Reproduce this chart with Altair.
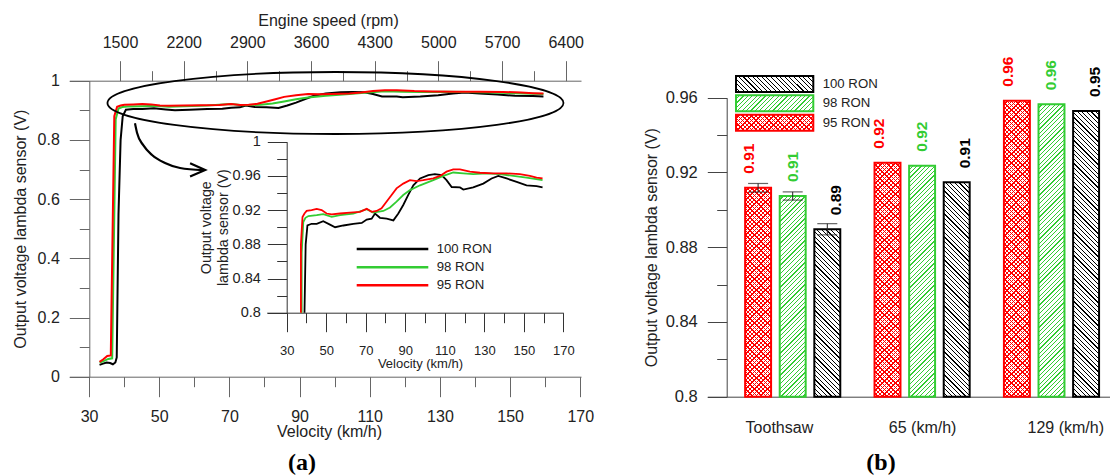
import altair as alt
import pandas as pd

FONT = "Liberation Sans"
W, H = 1110, 475

FUELS = ["100 RON", "98 RON", "95 RON"]
FUEL_COLORS = ["#000000", "#33cc33", "#ff0000"]

# ---------------- panel (a): output voltage vs velocity ----------------
v_100 = [33, 34, 35, 36, 36.8, 37.5, 37.9, 38.4, 39.0, 39.6, 40.5, 42.6, 45.2, 48.5, 51.9,
         54.5, 58.7, 63.7, 68, 70.5, 73, 74.7, 77.2, 80.6, 84, 86.5, 89, 91.6, 94.1, 97.5,
         101.7, 105, 108.4, 110.9, 113.5, 117.7, 119.4, 124.4, 129.5, 133.7, 137.1, 141.3,
         146.4, 151.4, 156.5, 159.5]
u_100 = [0.040, 0.044, 0.048, 0.046, 0.042, 0.048, 0.065, 0.55, 0.80, 0.88, 0.902, 0.904,
         0.904, 0.907, 0.903, 0.900, 0.902, 0.904, 0.905, 0.909, 0.910, 0.916, 0.911, 0.910,
         0.908, 0.916, 0.926, 0.938, 0.949, 0.957, 0.961, 0.962, 0.961, 0.955, 0.947, 0.9465,
         0.944, 0.9465, 0.951, 0.957, 0.960, 0.957, 0.953, 0.949, 0.948, 0.9465]
v_98 = [33, 34, 35.5, 36.6, 37.6, 38.4, 39.5, 41, 45.2, 48.5, 52.8, 57, 63.7, 70.5, 73.8,
        78.9, 82.3, 85.6, 89, 92.4, 97.5, 104.2, 109.3, 114.3, 119.4, 124.4, 131.2, 138,
        144.7, 151.4, 159.5]
u_98 = [0.048, 0.052, 0.060, 0.062, 0.87, 0.906, 0.911, 0.913, 0.914, 0.9153, 0.912, 0.914,
        0.916, 0.921, 0.917, 0.919, 0.923, 0.930, 0.9376, 0.9434, 0.949, 0.955, 0.960, 0.964,
        0.963, 0.962, 0.963, 0.962, 0.960, 0.958, 0.955]
v_95 = [33, 34, 35.2, 36.2, 37.2, 38.0, 39.0, 40.1, 42.6, 45.2, 47.7, 50.2, 52.8, 57, 62,
        67.1, 70.5, 73, 75.5, 78, 80.6, 83.1, 85.6, 89, 92.4, 95.8, 99.1, 104.2, 107.6, 110.9,
        114.3, 117.7, 122.7, 127.8, 134.6, 141.3, 148, 153.1, 156.5, 159.5]
u_95 = [0.050, 0.058, 0.070, 0.072, 0.88, 0.912, 0.916, 0.919, 0.920, 0.9215, 0.920, 0.916,
        0.915, 0.916, 0.917, 0.918, 0.9215, 0.918, 0.919, 0.922, 0.930, 0.9376, 0.9454, 0.951,
        0.955, 0.954, 0.955, 0.957, 0.960, 0.965, 0.9676, 0.9676, 0.965, 0.9637, 0.963, 0.963,
        0.962, 0.960, 0.958, 0.957]

vel_ticks = [30, 50, 70, 90, 110, 130, 150, 170]
vel_minor = [40, 60, 80, 100, 120, 140, 160]
volt_ticks = [0, 0.2, 0.4, 0.6, 0.8, 1.0]
volt_minor = [0.1, 0.3, 0.5, 0.7, 0.9]
rpm_ticks = [1500, 2200, 2900, 3600, 4300, 5000, 5700, 6400]
rpm_minor = [1850, 2550, 3250, 3950, 4650, 5350, 6050]
inset_ticks = [0.8, 0.84, 0.88, 0.92, 0.96, 1.0]
inset_minor = [0.82, 0.86, 0.9, 0.94, 0.98]

# annotation: ellipse and curved arrow (main-chart data coordinates)
ell_v, ell_u = [100.23], [0.9247]
arrow_v = [43.1, 43.7, 45.4, 47.96, 51.67, 55.95, 62.5]
arrow_u = [0.856, 0.823, 0.783, 0.749, 0.722, 0.705, 0.698]
head_v = [58.8, 63.1, 58.8]
head_u = [0.721, 0.698, 0.676]

# ---------------- panel (b): bars ----------------
conditions = ["Toothsaw", "65 (km/h)", "129 (km/h)"]
bar_order = ["95 RON", "98 RON", "100 RON"]
bar_95 = [0.9118, 0.9252, 0.9584]
bar_98 = [0.9074, 0.9236, 0.9565]
bar_100 = [0.8896, 0.9147, 0.9529]
err_95 = [0.0023, 0, 0]
err_98 = [0.0022, 0, 0]
err_100 = [0.0030, 0, 0]
lab_95 = ["0.91", "0.92", "0.96"]
lab_98 = ["0.91", "0.92", "0.96"]
lab_100 = ["0.89", "0.91", "0.95"]
bar_ticks = [0.8, 0.84, 0.88, 0.92, 0.96]
bar_minor = [0.82, 0.86, 0.9, 0.94]

# ---------------- layout (pixels) ----------------
MX0, MX1, MY0, MY1 = 69.3, 581.0, 376.7, 80.7
MAIN_YAXIS_X = 89.3
IX0, IX1, IY0, IY1 = 266.7, 563.3, 312.7, 141.7
INSET_YAXIS_X = 286.7
BY0, BY1 = 396.7, 97.7
B_YAXIS_X = 726.7
BX0, BX1 = 707.3, 1136.9

SX_MAIN = alt.Scale(domain=[24.38, 170.2], range=[MX0, MX1], nice=False, zero=False)
SY_MAIN = alt.Scale(domain=[0, 1], range=[MY0, MY1], nice=False, zero=False)
SX_RPM = alt.Scale(domain=[942.6, 6568.2], range=[MX0, MX1], nice=False, zero=False)
SX_IN = alt.Scale(domain=[19.88, 170], range=[IX0, IX1], nice=False, zero=False)
SY_IN = alt.Scale(domain=[0.8, 1.0], range=[IY0, IY1], nice=False, zero=False)
SX_B = alt.Scale(domain=conditions, range=[BX0, BX1], paddingInner=0, paddingOuter=0.16)
SXO_B = alt.Scale(domain=bar_order, paddingInner=0.25, paddingOuter=0.495)
SY_B = alt.Scale(domain=[0.8, 0.96], range=[BY0, BY1], nice=False, zero=False)
SCOLOR = alt.Scale(domain=FUELS, range=FUEL_COLORS)

INT_FMT = "d"
DEC_FMT = ".2~f"


def axis(orient, values, tick, offset, color, labels=True, lfs=16, lpad=10, title="",
         tx=None, ty=None, tfs=16, tangle=0, tlh=None, domain=True, fmt=INT_FMT):
    kw = dict(orient=orient, values=values, tickSize=tick, offset=offset, grid=False,
              domain=domain, domainColor=color, domainWidth=1, tickColor=color, tickWidth=1,
              ticks=True, labels=labels, labelFont=FONT, labelFontSize=lfs, labelColor="#222",
              labelPadding=lpad, labelFlush=False, labelOverlap=False, format=fmt,
              title=title, titleFont=FONT, titleFontSize=tfs, titleFontWeight="normal",
              titleColor="#222")
    if tx is not None:
        kw.update(titleX=tx, titleY=ty, titleAngle=tangle, titleAlign="center",
                  titleBaseline="middle")
    if tlh is not None:
        kw["titleLineHeight"] = tlh
    return alt.Axis(**kw)


def hatch(w, h, period, color, bg, direction, frac):
    n = (w + h) / period
    k = (w + h) / (w * w + h * h)
    if direction == "/":
        x1, y1, x2, y2 = 0, 0, k * w, k * h
    else:
        x1, y1, x2, y2 = 0, 1, k * w, 1 - k * h
    stops = []
    i = 0
    while i < n:
        a = i / n
        b = min((i + 1 - frac) / n, 1.0)
        c = min((i + 1) / n, 1.0)
        stops.append({"offset": round(a, 5), "color": bg})
        if b > a:
            stops.append({"offset": round(b, 5), "color": bg})
        if c > b:
            stops.append({"offset": round(b, 5), "color": color})
            stops.append({"offset": round(c, 5), "color": color})
        i += 1
    return {"gradient": "linear", "stops": stops, "x1": round(x1, 5), "y1": round(y1, 5),
            "x2": round(x2, 5), "y2": round(y2, 5)}


CLEAR = "rgba(255,255,255,0)"


def fuel_fills(fuel, w, h):
    """list of (fill, stroke) layers for one hatched box"""
    if fuel == "95 RON":
        return [(hatch(w, h, 4.4, "#ff0000", "#ffffff", "/", 0.3), None),
                (hatch(w, h, 4.4, "#ff0000", CLEAR, "\\", 0.3), "#ff0000")]
    if fuel == "98 RON":
        return [(hatch(w, h, 4.4, "#33cc33", "#ffffff", "/", 0.28), "#33cc33")]
    return [(hatch(w, h, 4.6, "#000000", "#ffffff", "\\", 0.25), "#000000")]


layers = []

# ---- main chart lines + major axes ----
rows = []
for fuel, vs, us in [("100 RON", v_100, u_100), ("98 RON", v_98, u_98), ("95 RON", v_95, u_95)]:
    assert len(vs) == len(us)
    for v, u in zip(vs, us):
        rows.append({"fuel": fuel, "v": v, "u": u})
df_main = pd.DataFrame(rows)

layers.append(
    alt.Chart(df_main).mark_line(strokeWidth=2).encode(
        x=alt.X("v:Q", scale=SX_MAIN,
                axis=axis("bottom", vel_ticks, 20, MY0 - H, "#666", lpad=12,
                          title="Velocity (km/h)", tx=329, ty=55)),
        y=alt.Y("u:Q", scale=SY_MAIN,
                axis=axis("left", volt_ticks, 20, -MAIN_YAXIS_X, "#666", lpad=10,
                          title="Output voltage lambda sensor (V)", tx=20.5 - MAIN_YAXIS_X,
                          ty=(MY0 + MY1) / 2, tangle=270, fmt=DEC_FMT)),
        color=alt.Color("fuel:N", scale=SCOLOR, legend=None),
    )
)
# minor ticks main
layers.append(
    alt.Chart(pd.DataFrame({"v": [30], "u": [0]})).mark_point(opacity=0).encode(
        x=alt.X("v:Q", scale=SX_MAIN,
                axis=axis("bottom", vel_minor, 10, MY0 - H, "#666", labels=False, domain=False)),
        y=alt.Y("u:Q", scale=SY_MAIN,
                axis=axis("left", volt_minor, 10, -MAIN_YAXIS_X, "#666", labels=False,
                          domain=False, fmt=DEC_FMT)),
    )
)
# top rpm axis
layers.append(
    alt.Chart(pd.DataFrame({"rpm": rpm_ticks})).mark_point(opacity=0).encode(
        x=alt.X("rpm:Q", scale=SX_RPM,
                axis=axis("top", rpm_ticks, 20, -MY1, "#666", lpad=10,
                          title="Engine speed (rpm)", tx=328, ty=21 - MY1)),
    )
)
layers.append(
    alt.Chart(pd.DataFrame({"rpm": rpm_minor})).mark_point(opacity=0).encode(
        x=alt.X("rpm:Q", scale=SX_RPM,
                axis=axis("top", rpm_minor, 10, -MY1, "#666", labels=False, domain=False)),
    )
)
# ellipse
RY = 0.136
KAP = 0.5523
ELLIPSE = (f"M -1 0 C -1 {-RY*KAP:.4f} {-KAP} {-RY} 0 {-RY} "
           f"C {KAP} {-RY} 1 {-RY*KAP:.4f} 1 0 "
           f"C 1 {RY*KAP:.4f} {KAP} {RY} 0 {RY} "
           f"C {-KAP} {RY} -1 {RY*KAP:.4f} -1 0 Z")
layers.append(
    alt.Chart(pd.DataFrame({"v": ell_v, "u": ell_u})).mark_point(
        shape=ELLIPSE, size=456 * 456, filled=False, color="#000000", strokeWidth=1.8,
        opacity=1).encode(
        x=alt.X("v:Q", scale=SX_MAIN, axis=None),
        y=alt.Y("u:Q", scale=SY_MAIN, axis=None),
    )
)
# arrow
layers.append(
    alt.Chart(pd.DataFrame({"v": arrow_v, "u": arrow_u})).mark_line(
        color="#000000", strokeWidth=2.2, interpolate="monotone").encode(
        x=alt.X("v:Q", scale=SX_MAIN, axis=None),
        y=alt.Y("u:Q", scale=SY_MAIN, axis=None),
    )
)
layers.append(
    alt.Chart(pd.DataFrame({"v": head_v, "u": head_u, "o": [0, 1, 2]})).mark_line(
        color="#000000", strokeWidth=2.2).encode(
        x=alt.X("v:Q", scale=SX_MAIN, axis=None),
        y=alt.Y("u:Q", scale=SY_MAIN, axis=None),
        order="o:Q",
    )
)

# ---- inset ----
irows = []
for fuel, vs, us in [("100 RON", v_100, u_100), ("98 RON", v_98, u_98), ("95 RON", v_95, u_95)]:
    vis = [(v, u) for v, u in zip(vs, us) if u >= 0.8]
    irows.append({"fuel": fuel, "v": vis[0][0], "u": 0.8})
    for v, u in vis:
        irows.append({"fuel": fuel, "v": v, "u": u})
df_in = pd.DataFrame(irows)

layers.append(
    alt.Chart(df_in).mark_line(strokeWidth=1.8).encode(
        x=alt.X("v:Q", scale=SX_IN,
                axis=axis("bottom", vel_ticks, 19, IY0 - H, "#333", lfs=13, lpad=12.5,
                          title="Velocity (km/h)", tx=420, ty=363.3 - IY0, tfs=13)),
        y=alt.Y("u:Q", scale=SY_IN,
                axis=axis("left", inset_ticks, 19.4, -INSET_YAXIS_X, "#333", lfs=14.5, lpad=7,
                          title=["Output voltage", "lambda sensor (V)"],
                          tx=206.7 - INSET_YAXIS_X, ty=(IY0 + IY1) / 2, tfs=14.3, tangle=270,
                          tlh=16.6, fmt=DEC_FMT)),
        color=alt.Color("fuel:N", scale=SCOLOR, legend=None),
    )
)
layers.append(
    alt.Chart(pd.DataFrame({"v": [30], "u": [0.8]})).mark_point(opacity=0).encode(
        x=alt.X("v:Q", scale=SX_IN,
                axis=axis("bottom", vel_minor, 10, IY0 - H, "#333", labels=False, domain=False)),
        y=alt.Y("u:Q", scale=SY_IN,
                axis=axis("left", inset_minor, 10, -INSET_YAXIS_X, "#333", labels=False,
                          domain=False, fmt=DEC_FMT)),
    )
)
# inset legend
SY_LEG_A = alt.Scale(type="point", domain=FUELS, range=[249, 285.3], padding=0)
df_leg = pd.DataFrame({"fuel": FUELS})
layers.append(
    alt.Chart(df_leg).mark_rule(strokeWidth=2.5).encode(
        x=alt.value(356.7), x2=alt.value(428.3),
        y=alt.Y("fuel:N", scale=SY_LEG_A, axis=None),
        color=alt.Color("fuel:N", scale=SCOLOR, legend=None),
    )
)
layers.append(
    alt.Chart(df_leg).mark_text(align="left", baseline="middle", font=FONT, fontSize=13.2,
                                color="#222").encode(
        x=alt.value(436.7),
        y=alt.Y("fuel:N", scale=SY_LEG_A, axis=None),
        text="fuel:N",
    )
)
layers.append(
    alt.Chart(pd.DataFrame({"t": ["(a)"]})).mark_text(
        font="Liberation Serif", fontWeight="bold", fontSize=24, color="#000000",
        baseline="middle").encode(x=alt.value(302), y=alt.value(463), text="t:N")
)

# ---- panel (b) ----
brows = []
for fuel, vals, errs, labs in [("95 RON", bar_95, err_95, lab_95),
                               ("98 RON", bar_98, err_98, lab_98),
                               ("100 RON", bar_100, err_100, lab_100)]:
    for cond, val, err, lab in zip(conditions, vals, errs, labs):
        brows.append({"cond": cond, "fuel": fuel, "val": val, "err": err, "lab": lab,
                      "lo": val - err, "hi": val + err})
df_b = pd.DataFrame(brows)

step_o = (BX1 - BX0) / (3 + 2 * 0.16) / (3 - 0.25 + 2 * 0.495)
bar_w = step_o * 0.75
for _, r in df_b.iterrows():
    hpx = (r["val"] - 0.8) / 0.16 * (BY0 - BY1)
    for fill, stroke in fuel_fills(r["fuel"], bar_w, hpx):
        mk = dict(fill=fill)
        if stroke is not None:
            mk.update(stroke=stroke, strokeWidth=2)
        layers.append(
            alt.Chart(pd.DataFrame([r.to_dict()])).mark_bar(**mk).encode(
                x=alt.X("cond:N", scale=SX_B, axis=None),
                xOffset=alt.XOffset("fuel:N", scale=SXO_B),
                y=alt.Y("val:Q", scale=SY_B, axis=None),
                y2=alt.datum(0.8),
            )
        )

df_err = df_b[df_b["err"] > 0]
layers.append(
    alt.Chart(df_err).mark_rule(color="#222", strokeWidth=1).encode(
        x=alt.X("cond:N", scale=SX_B, axis=None),
        xOffset=alt.XOffset("fuel:N", scale=SXO_B),
        y=alt.Y("lo:Q", scale=SY_B, axis=None), y2="hi:Q",
    )
)
for col in ["lo", "hi"]:
    layers.append(
        alt.Chart(df_err).mark_tick(color="#222", thickness=1.2, size=20,
                                    orient="horizontal").encode(
            x=alt.X("cond:N", scale=SX_B, axis=None),
            xOffset=alt.XOffset("fuel:N", scale=SXO_B),
            y=alt.Y(f"{col}:Q", scale=SY_B, axis=None),
        )
    )
layers.append(
    alt.Chart(df_b).mark_text(angle=270, align="left", baseline="middle", dx=14, font=FONT,
                              fontSize=15.5, fontWeight="bold").encode(
        x=alt.X("cond:N", scale=SX_B, axis=None),
        xOffset=alt.XOffset("fuel:N", scale=SXO_B),
        y=alt.Y("val:Q", scale=SY_B, axis=None),
        text="lab:N",
        color=alt.Color("fuel:N", scale=SCOLOR, legend=None),
    )
)
# (b) axes
layers.append(
    alt.Chart(df_b).mark_point(opacity=0).encode(
        x=alt.X("cond:N", scale=SX_B,
                axis=alt.Axis(orient="bottom", offset=BY0 - H, ticks=False, tickSize=0,
                              domainColor="#444", domainWidth=1, labelFont=FONT,
                              labelFontSize=16, labelColor="#222", labelPadding=23,
                              labelAngle=0, title="", grid=False)),
        y=alt.Y("val:Q", scale=SY_B,
                axis=axis("left", bar_ticks, 19.4, -B_YAXIS_X, "#444", lfs=16.5, lpad=10,
                          title="Output voltage lambda sensor (V)", tx=-75,
                          ty=(BY0 + BY1) / 2, tangle=270, fmt=DEC_FMT)),
    )
)
layers.append(
    alt.Chart(pd.DataFrame({"val": [0.8]})).mark_point(opacity=0).encode(
        y=alt.Y("val:Q", scale=SY_B,
                axis=axis("left", bar_minor, 10, -B_YAXIS_X, "#444", labels=False,
                          domain=False, fmt=DEC_FMT)),
    )
)
# (b) legend
LEG_X0, LEG_X1 = 736.0, 813.3
leg_y = {"100 RON": (76.0, 92.0), "98 RON": (95.3, 111.3), "95 RON": (114.7, 130.7)}
for fuel in FUELS:
    y0, y1 = leg_y[fuel]
    for fill, stroke in fuel_fills(fuel, LEG_X1 - LEG_X0, y1 - y0):
        mk = dict(fill=fill)
        if stroke is not None:
            mk.update(stroke=stroke, strokeWidth=2)
        layers.append(
            alt.Chart(pd.DataFrame({"k": [0]})).mark_rect(**mk).encode(
                x=alt.value(LEG_X0), x2=alt.value(LEG_X1),
                y=alt.value(y0), y2=alt.value(y1),
            )
        )
SY_LEG_B = alt.Scale(type="point", domain=FUELS, range=[84, 122.7], padding=0)
layers.append(
    alt.Chart(df_leg).mark_text(align="left", baseline="middle", font=FONT, fontSize=13.2,
                                color="#222").encode(
        x=alt.value(822.7),
        y=alt.Y("fuel:N", scale=SY_LEG_B, axis=None),
        text="fuel:N",
    )
)
layers.append(
    alt.Chart(pd.DataFrame({"t": ["(b)"]})).mark_text(
        font="Liberation Serif", fontWeight="bold", fontSize=24, color="#000000",
        baseline="middle").encode(x=alt.value(881), y=alt.value(463), text="t:N")
)

chart = alt.layer(*layers).resolve_scale(
    x="independent", y="independent", color="independent", xOffset="independent"
).properties(
    width=W, height=H, padding=0, autosize=alt.AutoSizeParams(type="none")
).configure_view(strokeWidth=0, strokeOpacity=0)

chart.save("out.html", embed_options={"renderer": "svg", "actions": False})
